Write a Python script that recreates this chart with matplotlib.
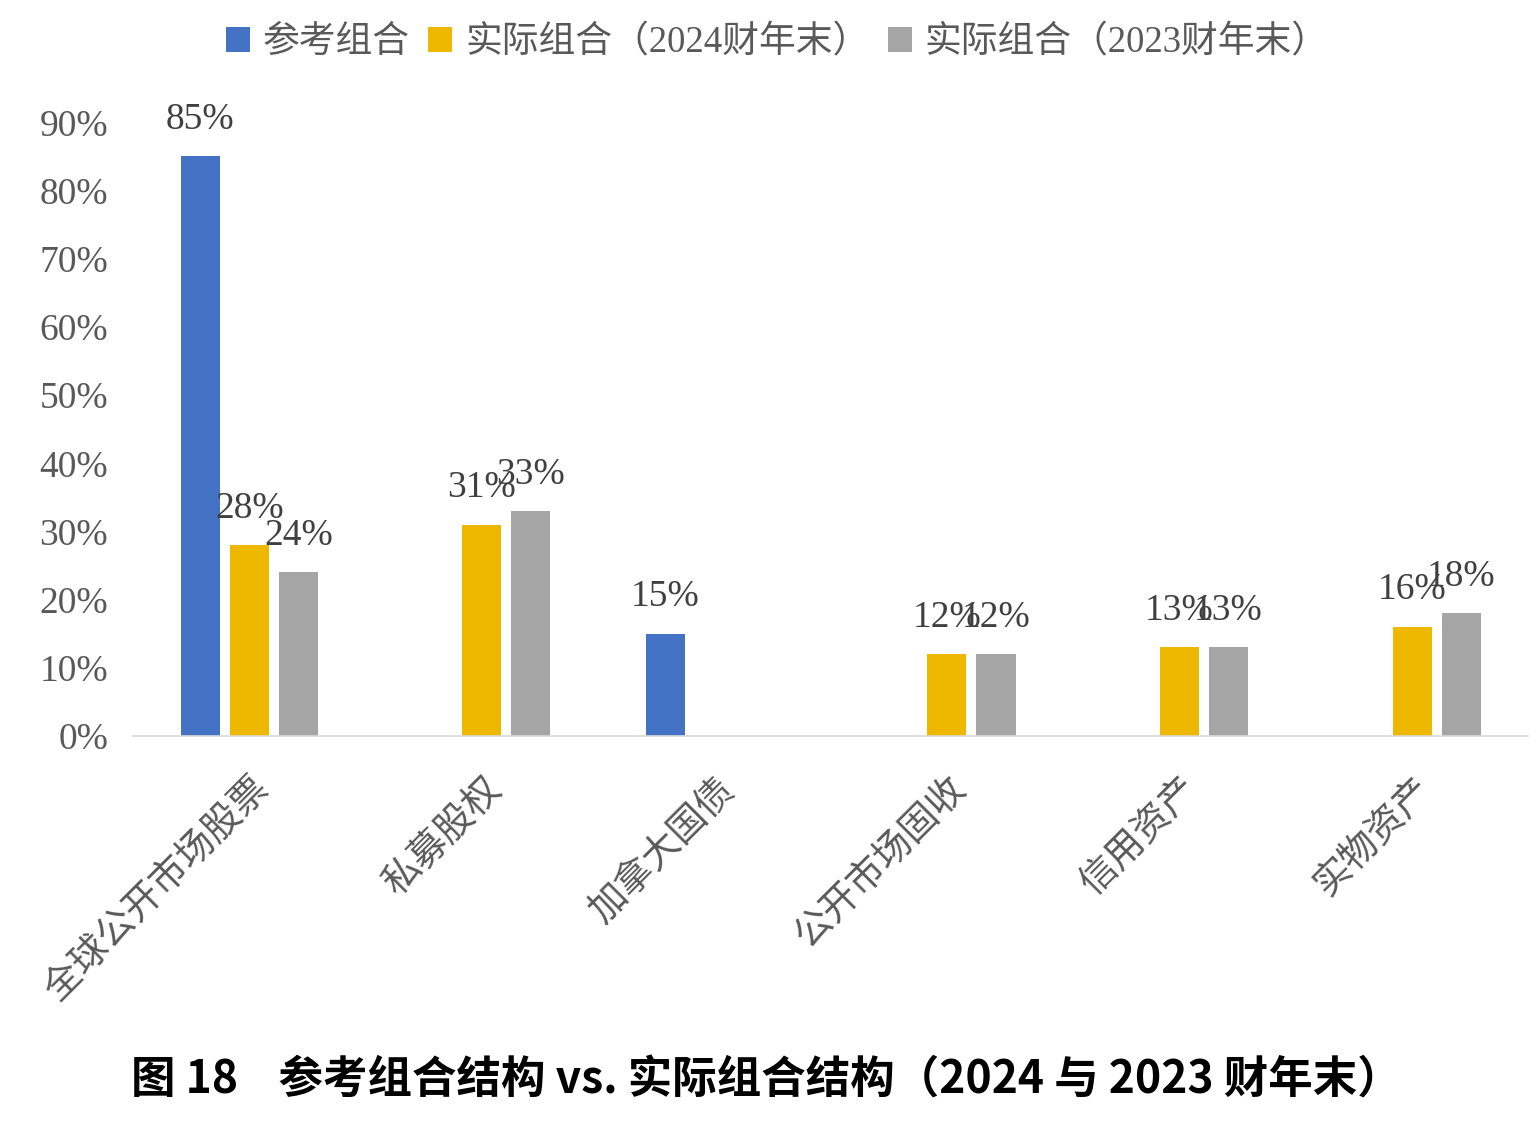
import matplotlib.pyplot as plt
import numpy as np
from matplotlib.ticker import FuncFormatter

plt.rcParams['font.family'] = ['Liberation Serif', 'Noto Sans CJK SC', 'DejaVu Sans']

categories = ['全球公开市场股票', '私募股权', '加拿大国债', '公开市场固收', '信用资产', '实物资产']
series_names = ['参考组合', '实际组合（2024财年末）', '实际组合（2023财年末）']
reference = [85, np.nan, 15, np.nan, np.nan, np.nan]
actual_2024 = [28, 31, np.nan, 12, 13, 16]
actual_2023 = [24, 33, np.nan, 12, 13, 18]
colors = ['#4472C4', '#EFB800', '#A5A5A5']
yticks = [0, 10, 20, 30, 40, 50, 60, 70, 80, 90]

fig = plt.figure(figsize=(15.36, 11.22), dpi=100)
ax = fig.add_axes([0.0866, 0.344, 0.9084, 0.547])

x = np.arange(len(categories))
width = 0.168
offsets = [-0.211, 0, 0.211]
bars = []
for vals, off, col, name in zip([reference, actual_2024, actual_2023], offsets, colors, series_names):
    vals = np.array(vals, dtype=float)
    b = ax.bar(x + off, np.nan_to_num(vals), width, color=col, label=name)
    bars.append(b)
    # labels only where the reference shows a bar
    for xi, v in zip(x + off, vals):
        if np.isnan(v):
            continue
        ax.annotate(f'{v:.0f}%', (xi, v), xytext=(0, 14), textcoords='offset points',
                    ha='center', va='bottom', fontsize=27, color='#404040')

ax.set_xlim(-0.5, len(categories) - 0.5)
ax.set_ylim(0, 90)
ax.set_yticks(yticks)
ax.yaxis.set_major_formatter(FuncFormatter(lambda v, p: f'{v:.0f}%'))
ax.tick_params(axis='y', length=0, pad=18, labelsize=27, labelcolor='#595959')
ax.set_xticks(x)
ax.set_xticklabels(categories, rotation=45, ha='right', va='top', rotation_mode='anchor',
                   fontsize=27, color='#595959', family=['Noto Sans CJK SC'])
ax.tick_params(axis='x', length=0, pad=24)
for s in ['top', 'right', 'left']:
    ax.spines[s].set_visible(False)
ax.spines['bottom'].set_color('#D9D9D9')
ax.spines['bottom'].set_linewidth(1.2)

leg = fig.legend(handles=bars, labels=series_names, loc='center', bbox_to_anchor=(0.506, 0.962),
                 ncol=3, frameon=False, fontsize=26.5, handlelength=0.65, handleheight=0.65,
                 handletextpad=0.35, columnspacing=0.5)
for t in leg.get_texts():
    t.set_color('#595959')

fig.text(0.499, 0.037, '图 18    参考组合结构 vs. 实际组合结构（2024 与 2023 财年末）',
         ha='center', va='center', fontsize=32, fontweight='bold', color='black',
         family=['Noto Sans CJK SC', 'DejaVu Sans'])

fig.savefig('out.png', dpi=100)
